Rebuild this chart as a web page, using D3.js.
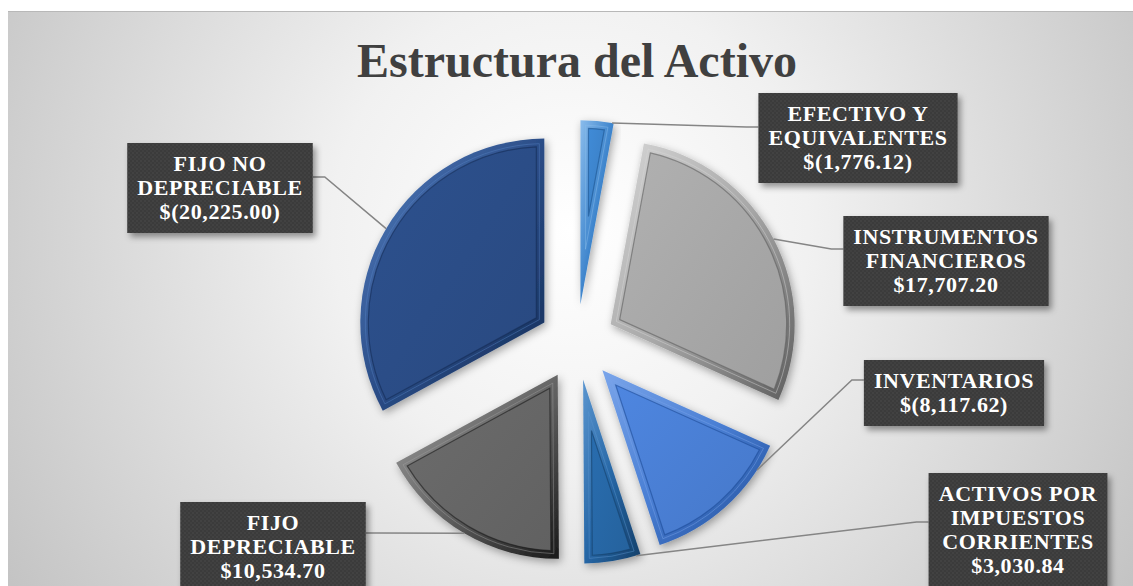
<!DOCTYPE html>
<html>
<head>
<meta charset="utf-8">
<script src="https://cdn.jsdelivr.net/npm/d3@7"></script>
<style>
  body { margin: 0; background: #fff; }
  svg { display: block; }
</style>
</head>
<body>
<div id="chart"></div>
<script>
// data
var categories = ["EFECTIVO Y EQUIVALENTES", "INSTRUMENTOS FINANCIEROS", "INVENTARIOS",
                  "ACTIVOS POR IMPUESTOS CORRIENTES", "FIJO DEPRECIABLE", "FIJO NO DEPRECIABLE"];
var values = [-1776.12, 17707.20, -8117.62, 3030.84, 10534.70, -20225.00];
var labelLines = [["EFECTIVO Y", "EQUIVALENTES"], ["INSTRUMENTOS", "FINANCIEROS"], ["INVENTARIOS"],
                  ["ACTIVOS POR", "IMPUESTOS", "CORRIENTES"], ["FIJO", "DEPRECIABLE"], ["FIJO NO", "DEPRECIABLE"]];

// colours: face, light rim, dark rim
var faceColors = ["#3d84cc", "#a8a8a8", "#4a7fd4", "#2767a6", "#666666", "#2b4d87"];
var lightColors = ["#8abcec", "#d6d6d6", "#7aa5ea", "#5a95cf", "#a0a0a0", "#5580c2"];
var darkColors = ["#1b548f", "#5e5e5e", "#1d4b97", "#143f69", "#1a1a1a", "#142c55"];

// label placement: box centre, anchor fraction along slice, elbow
var labelLayout = [
  {cx: 858, cy: 138, frac: 0.95, ly: 127, side: "right"},
  {cx: 946, cy: 261, frac: 0.5, ly: 249, side: "right"},
  {cx: 954, cy: 393, frac: 0.18, ly: 380, side: "right"},
  {cx: 1018, cy: 530, frac: 0.08, ly: 522, side: "right"},
  {cx: 273, cy: 547, frac: 0.5, ly: 533, side: "left"},
  {cx: 220, cy: 188, frac: 0.5, ly: 177, side: "left"}
];

var fmt = d3.format(",.2f");
function money(v) { return v < 0 ? "$(" + fmt(-v) + ")" : "$" + fmt(v); }

var width = 1133, height = 586;
var cx = 577, cy = 342, R = 184, explode = 38, bevel = 8;

var svg = d3.select("#chart").append("svg")
  .attr("width", width)
  .attr("height", height);

var defs = svg.append("defs");

var bg = defs.append("radialGradient").attr("id", "bg")
  .attr("gradientUnits", "userSpaceOnUse")
  .attr("cx", 570).attr("cy", 230).attr("r", 680);
bg.append("stop").attr("offset", 0).attr("stop-color", "#ffffff");
bg.append("stop").attr("offset", 0.35).attr("stop-color", "#f1f1f1");
bg.append("stop").attr("offset", 1).attr("stop-color", "#c2c2c2");

var shadow = defs.append("filter").attr("id", "shadow")
  .attr("x", "-20%").attr("y", "-20%").attr("width", "140%").attr("height", "140%");
shadow.append("feDropShadow").attr("dx", 2).attr("dy", 3)
  .attr("stdDeviation", 4).attr("flood-color", "#000").attr("flood-opacity", 0.35);

var boxShadow = defs.append("filter").attr("id", "boxShadow")
  .attr("x", "-20%").attr("y", "-20%").attr("width", "140%").attr("height", "140%");
boxShadow.append("feDropShadow").attr("dx", 3).attr("dy", 4)
  .attr("stdDeviation", 3).attr("flood-color", "#000").attr("flood-opacity", 0.4);

var dots = defs.append("pattern").attr("id", "dots")
  .attr("patternUnits", "userSpaceOnUse").attr("width", 4).attr("height", 4);
dots.append("rect").attr("width", 4).attr("height", 4).attr("fill", "#3a3a3a");
dots.append("circle").attr("cx", 1).attr("cy", 1).attr("r", 0.8).attr("fill", "#4c4c4c");
dots.append("circle").attr("cx", 3).attr("cy", 3).attr("r", 0.8).attr("fill", "#444");

faceColors.forEach(function(c, i) {
  var g = defs.append("linearGradient").attr("id", "rim" + i)
    .attr("x1", 0).attr("y1", 0).attr("x2", 1).attr("y2", 1);
  g.append("stop").attr("offset", 0).attr("stop-color", lightColors[i]);
  g.append("stop").attr("offset", 0.5).attr("stop-color", c);
  g.append("stop").attr("offset", 1).attr("stop-color", darkColors[i]);
  var f = defs.append("linearGradient").attr("id", "face" + i)
    .attr("x1", 0).attr("y1", 0).attr("x2", 1).attr("y2", 1);
  f.append("stop").attr("offset", 0).attr("stop-color", d3.color(c).brighter(0.15));
  f.append("stop").attr("offset", 1).attr("stop-color", d3.color(c).darker(0.15));
});

// background
svg.append("rect")
  .attr("x", 8).attr("y", 11)
  .attr("width", width - 8).attr("height", height - 11)
  .attr("fill", "url(#bg)");
svg.append("line")
  .attr("x1", 8).attr("x2", width).attr("y1", 11.5).attr("y2", 11.5)
  .attr("stroke", "#b8b8b8").attr("stroke-width", 1);

// title
svg.append("text")
  .attr("x", cx).attr("y", 77)
  .attr("text-anchor", "middle")
  .style("font-family", "'Liberation Serif', 'Times New Roman', serif")
  .style("font-weight", "bold")
  .style("font-size", "48px")
  .attr("fill", "#404040")
  .text("Estructura del Activo");

var pie = d3.pie()
  .sort(null)
  .value(function(d) { return Math.abs(d); });

var arcs = pie(values);

var arc = d3.arc().innerRadius(0).outerRadius(R);

function offset(d) {
  var mid = (d.startAngle + d.endAngle) / 2;
  return [cx + Math.sin(mid) * explode, cy - Math.cos(mid) * explode];
}

// inset face of a slice, edges parallel to the slice edges
function innerPath(d, t) {
  var a0 = d.startAngle, a1 = d.endAngle;
  var half = (a1 - a0) / 2, mid = (a0 + a1) / 2;
  var off = t / Math.sin(half);
  var ri = R - t;
  var da = Math.asin(t / ri);
  var b0 = a0 + da, b1 = a1 - da;
  var p = d3.path();
  p.moveTo(Math.sin(mid) * off, -Math.cos(mid) * off);
  p.lineTo(ri * Math.sin(b0), -ri * Math.cos(b0));
  p.arc(0, 0, ri, b0 - Math.PI / 2, b1 - Math.PI / 2);
  p.closePath();
  return p.toString();
}

var slices = svg.append("g")
  .selectAll("g")
  .data(arcs)
  .enter().append("g")
    .attr("transform", function(d) { var o = offset(d); return "translate(" + o[0] + "," + o[1] + ")"; });

slices.append("path")
  .attr("d", arc)
  .attr("fill", function(d, i) { return "url(#rim" + i + ")"; })
  .attr("filter", "url(#shadow)");

slices.append("path")
  .attr("d", function(d) { return innerPath(d, bevel); })
  .attr("fill", function(d, i) { return "url(#face" + i + ")"; })
  .attr("stroke", function(d, i) { return darkColors[i]; })
  .attr("stroke-opacity", 0.6)
  .attr("stroke-width", 1.2);

slices.append("path")
  .attr("d", function(d) { return innerPath(d, bevel - 3); })
  .attr("fill", "none")
  .attr("stroke", function(d, i) { return lightColors[i]; })
  .attr("stroke-opacity", 0.45)
  .attr("stroke-width", 1);

// labels
var lineH = 24, padX = 10, padY = 9;
var labels = svg.append("g");

arcs.forEach(function(d, i) {
  var L = labelLayout[i];
  var lines = labelLines[i].concat([money(values[i])]);
  var g = labels.append("g");

  var txt = g.append("text")
    .attr("text-anchor", "middle")
    .style("font-family", "'Liberation Serif', 'Times New Roman', serif")
    .style("font-weight", "bold")
    .style("font-size", "22px")
    .style("letter-spacing", "0.6px")
    .attr("fill", "#ffffff");
  lines.forEach(function(s, k) {
    txt.append("tspan").attr("x", L.cx)
      .attr("y", L.cy - (lines.length - 1) * lineH / 2 + k * lineH + 7)
      .text(s);
  });
  var bb = txt.node().getBBox();
  var bw = bb.width + 2 * padX, bh = lines.length * lineH + 2 * padY;
  var bx = L.cx - bw / 2, by = L.cy - bh / 2;
  g.insert("rect", "text")
    .attr("x", bx).attr("y", by)
    .attr("width", bw).attr("height", bh)
    .attr("fill", "url(#dots)")
    .attr("filter", "url(#boxShadow)");

  // leader line
  var o = offset(d);
  var a = d.startAngle + L.frac * (d.endAngle - d.startAngle);
  var ax = o[0] + Math.sin(a) * R, ay = o[1] - Math.cos(a) * R;
  var ex = L.side === "right" ? bx : bx + bw;
  var elbow = L.side === "right" ? ex - 12 : ex + 12;
  labels.insert("path", "g")
    .attr("d", "M" + ax + "," + ay + "L" + elbow + "," + L.ly + "L" + ex + "," + L.ly)
    .attr("fill", "none")
    .attr("stroke", "#858585")
    .attr("stroke-width", 1.5);
});
</script>
</body>
</html>
